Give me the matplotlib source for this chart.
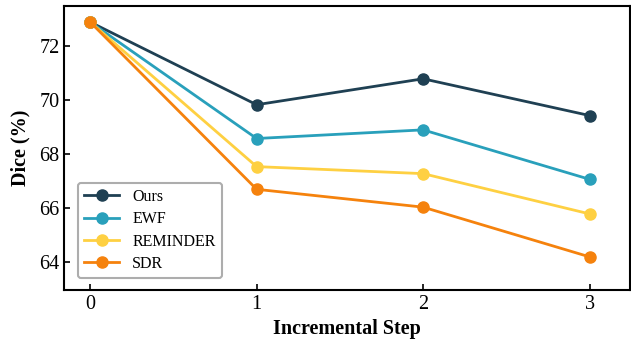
import numpy as np
import matplotlib.pyplot as plt

# data
steps = [0, 1, 2, 3]
ours = [72.88, 69.82, 70.78, 69.42]
ewf = [72.88, 68.57, 68.89, 67.06]
reminder = [72.88, 67.53, 67.27, 65.78]
sdr = [72.88, 66.69, 66.03, 64.19]
names = ['Ours', 'EWF', 'REMINDER', 'SDR']
colors = ['#1f4053', '#29a0bb', '#fed042', '#f5820d']

plt.rcParams['font.family'] = ['Liberation Serif', 'DejaVu Serif']

fig = plt.figure(figsize=(6.31, 3.43), dpi=100)
ax = fig.add_axes([0.102, 0.155, 0.897, 0.828])

for y, n, c in zip([ours, ewf, reminder, sdr], names, colors):
    ax.plot(steps, y, marker='o', c=c, lw=2, ms=8, label=n)

ax.set_xlim(-0.155, 3.245)
ax.set_ylim(62.97, 73.48)
ax.set_xticks(steps)
ax.set_yticks([64, 66, 68, 70, 72])
ax.tick_params(direction='in', labelsize=14.5, width=1.2, length=4)
for s in ax.spines.values():
    s.set_linewidth(1.5)
ax.set_xlabel('Incremental Step', fontsize=14.5, fontweight='bold')
ax.set_ylabel('Dice (%)', fontsize=14.5, fontweight='bold', labelpad=6)
leg = ax.legend(loc='lower left', bbox_to_anchor=(0.024, 0.04), borderaxespad=0,
                fontsize=11.5, frameon=True, fancybox=True, labelspacing=0.4,
                edgecolor='#999999', handlelength=2.2, borderpad=0.4)
leg.get_frame().set_linewidth(1.5)

fig.savefig('out.png', dpi=100)
